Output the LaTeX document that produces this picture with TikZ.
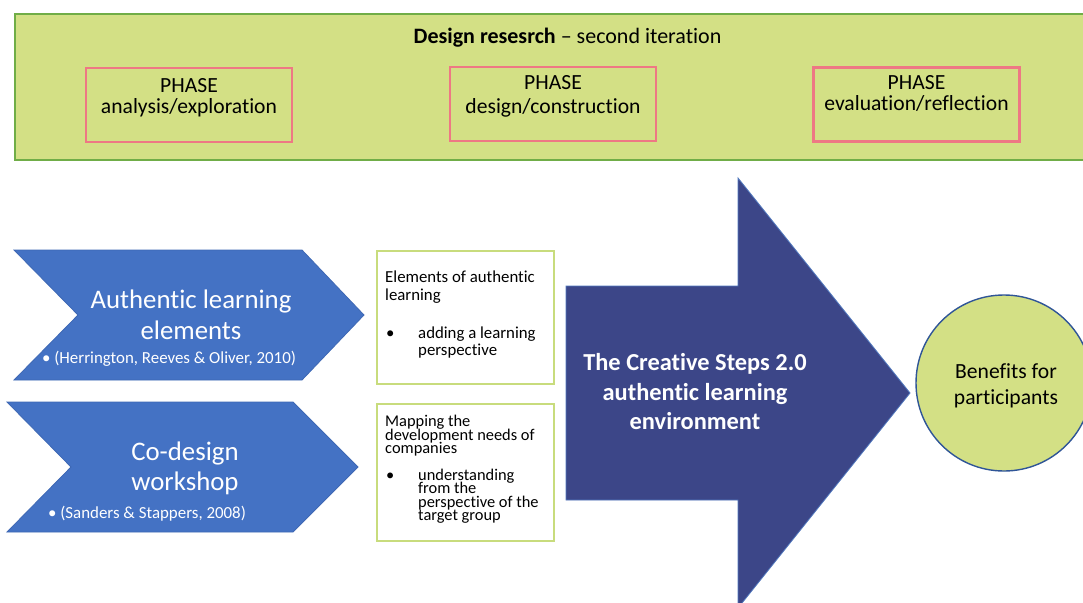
\documentclass[tikz,border=0pt]{standalone}
\usepackage{fontspec}
\setmainfont{Carlito}[Ligatures=NoCommon]
\definecolor{bandfill}{RGB}{211,224,133}
\definecolor{bandline}{RGB}{112,173,71}
\definecolor{phaseline}{RGB}{238,120,132}
\definecolor{chevblue}{RGB}{68,114,196}
\definecolor{chevline}{RGB}{62,104,180}
\definecolor{noteline}{RGB}{200,220,125}
\definecolor{envfill}{RGB}{60,70,136}
\definecolor{envline}{RGB}{80,120,190}
\definecolor{circline}{RGB}{47,85,151}
\newcommand{\fs}[2]{\fontsize{#1}{#2}\selectfont}
\begin{document}
\begin{tikzpicture}[x=1pt,y=-1pt,
  band/.style={draw=bandline, fill=bandfill, line width=2pt, rectangle, inner sep=0},
  phasebox/.style={draw=phaseline, line width=2.2pt, rectangle, inner sep=0,
    minimum width=206, minimum height=74},
  chev/.style={fill=chevblue, draw=chevline, line width=0.8pt},
  notebox/.style={draw=noteline, fill=white, line width=2pt, rectangle, inner sep=0},
  envarrow/.style={fill=envfill, draw=envline, line width=0.8pt},
  goal/.style={circle, draw=circline, fill=bandfill, line width=1.4pt, inner sep=0,
    minimum size=176},
  txt/.style={anchor=base, inner sep=0},
  ltxt/.style={anchor=base west, inner sep=0},
  phasetxt/.style={txt, font=\fs{21.6}{26}},
  chevtxt/.style={txt, text=white, font=\fs{26.8}{32}},
  citetxt/.style={txt, text=white, font=\fs{16.9}{20}},
  notetxt/.style={ltxt, font=\fs{16.8}{20}},
  densetxt/.style={ltxt, font=\fs{16.4}{19}},
  envtxt/.style={txt, text=white, font=\bfseries\fs{24.4}{29}},
  goaltxt/.style={txt, font=\fs{21.6}{26}}]
\path[use as bounding box] (0,0) rectangle (1083,602);
\clip (0,0) rectangle (1083,602);
\fill[white] (0,0) rectangle (1083,602);

% design research band with its three phases
\node[band, anchor=north west, minimum width=1090, minimum height=146] (band) at (14,13) {};
\node[txt, font=\fs{22}{26}] (title) at (567.5,44) {\textbf{Design resesrch} -- second iteration};

\node[phasebox] (p1) at (189,105) {};
\node[phasebox] (p2) at (553,104) {};
\node[phasebox] (p3) at (916.5,104.5) {};
\node[phasetxt] (p1a) at (189,92) {PHASE};
\node[phasetxt] (p1b) at (189,113) {analysis/exploration};
\node[phasetxt] (p2a) at (553,89) {PHASE};
\node[phasetxt] (p2b) at (553,113) {design/construction};
\node[phasetxt] (p3a) at (916.5,89) {PHASE};
\node[phasetxt] (p3b) at (916.5,110) {evaluation/reflection};

% input chevrons
\draw[chev] (14,250) -- (302,250) -- (364,315) -- (302,380) -- (14,380) -- (78,315) -- cycle;
\draw[chev] (7,402) -- (293,402) -- (358,467) -- (293,532) -- (7,532) -- (71,467) -- cycle;
\node[chevtxt] (c1a) at (191,308) {Authentic learning};
\node[chevtxt] (c1b) at (191,339) {elements};
\node[citetxt] (c1c) at (169,363) {\textbullet\ (Herrington, Reeves \& Oliver, 2010)};
\node[chevtxt] (c2a) at (185,460) {Co-design};
\node[chevtxt] (c2b) at (185,490) {workshop};
\node[citetxt] (c2c) at (147,518) {\textbullet\ (Sanders \& Stappers, 2008)};

% note boxes
\node[notebox, anchor=north west, minimum width=177, minimum height=133] (na) at (376,250) {};
\node[notebox, anchor=north west, minimum width=177, minimum height=137] (nb) at (376,403) {};
\node[notetxt] (na1) at (385,282) {Elements of authentic};
\node[notetxt] (na2) at (385,300) {learning};
\node[notetxt] (nab) at (386,338) {\textbullet};
\node[notetxt] (na3) at (418,338) {adding a learning};
\node[notetxt] (na4) at (418,355) {perspective};
\node[densetxt] (nb1) at (385,426) {Mapping the};
\node[densetxt] (nb2) at (385,440) {development needs of};
\node[densetxt] (nb3) at (385,453) {companies};
\node[densetxt] (nbb) at (386,480) {\textbullet};
\node[densetxt] (nb4) at (418,480) {understanding};
\node[densetxt] (nb5) at (418,493) {from the};
\node[densetxt] (nb6) at (418,507) {perspective of the};
\node[densetxt] (nb7) at (418,520) {target group};

% learning environment arrow
\draw[envarrow] (566,286) -- (738,286) -- (738,178) -- (910,393) -- (738,608)
  -- (738,500) -- (566,500) -- cycle;
\node[envtxt] (e1) at (695,370) {The Creative Steps 2.0};
\node[envtxt] (e2) at (695,400) {authentic learning};
\node[envtxt] (e3) at (695,429) {environment};

% outcome
\node[goal] (goal) at (1004,383) {};
\node[goaltxt] (g1) at (1006,378) {Benefits for};
\node[goaltxt] (g2) at (1006,404) {participants};
\end{tikzpicture}
\end{document}
